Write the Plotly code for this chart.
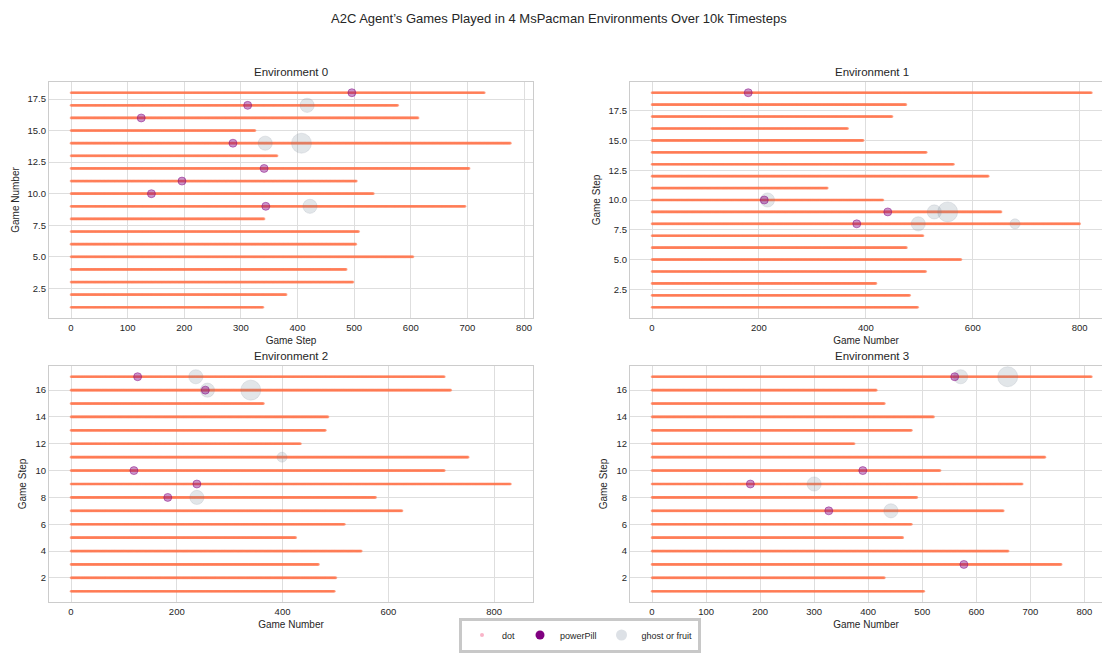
import numpy as np
import plotly.graph_objects as go

# ---------------- data ----------------
env_names = ["Environment 0", "Environment 1", "Environment 2", "Environment 3"]

env0_lengths = [340, 381, 499, 487, 605, 504, 509, 342, 697, 535, 505, 704, 365, 777, 326, 614, 578, 731]
env1_lengths = [498, 483, 420, 513, 579, 477, 508, 801, 654, 433, 329, 630, 565, 514, 396, 367, 450, 476, 823]
env2_lengths = [499, 502, 469, 550, 426, 518, 627, 577, 832, 707, 752, 435, 482, 487, 365, 719, 707]
env3_lengths = [504, 431, 758, 660, 465, 481, 651, 491, 686, 534, 728, 375, 481, 522, 431, 416, 814]

env0_pill_game = [18, 17, 16, 14, 12, 11, 10, 9]
env0_pill_step = [496, 312, 124, 286, 341, 196, 142, 344]
env1_pill_game = [19, 10, 9, 8]
env1_pill_step = [180, 210, 441, 383]
env2_pill_game = [17, 16, 10, 9, 8]
env2_pill_step = [126, 254, 119, 238, 183]
env3_pill_game = [17, 10, 9, 7, 3]
env3_pill_step = [560, 390, 182, 327, 577]

env0_ghost_game = [17, 14, 14, 9]
env0_ghost_step = [417, 343, 407, 422]
env0_ghost_reward = [400, 400, 800, 400]
env1_ghost_game = [10, 9, 9, 8, 8]
env1_ghost_step = [216, 528, 553, 498, 679]
env1_ghost_reward = [400, 400, 800, 400, 200]
env2_ghost_game = [17, 16, 16, 11, 8]
env2_ghost_step = [236, 258, 340, 399, 238]
env2_ghost_reward = [400, 400, 800, 200, 400]
env3_ghost_game = [17, 17, 9, 7]
env3_ghost_step = [571, 658, 300, 442]
env3_ghost_reward = [400, 800, 400, 400]

x_titles = ["Game Step", "Game Number", "Game Number", "Game Number"]
y_titles = ["Game Number", "Game Step", "Game Step", "Game Step"]
x_dticks = [100, 200, 200, 100]
y_dticks = [2.5, 2.5, 2, 2]

lengths = [env0_lengths, env1_lengths, env2_lengths, env3_lengths]
pills = [(env0_pill_game, env0_pill_step), (env1_pill_game, env1_pill_step),
         (env2_pill_game, env2_pill_step), (env3_pill_game, env3_pill_step)]
ghosts = [(env0_ghost_game, env0_ghost_step, env0_ghost_reward),
          (env1_ghost_game, env1_ghost_step, env1_ghost_reward),
          (env2_ghost_game, env2_ghost_step, env2_ghost_reward),
          (env3_ghost_game, env3_ghost_step, env3_ghost_reward)]

# ---------------- layout geometry ----------------
W, H = 1102, 654
FONT = "Liberation Sans, Arial, sans-serif"
TXT = "#262626"

# pixel boxes (left, right, top, bottom); right column is cut at figure edge
boxes = [(49, 533, 82, 318), (630, 1102, 82, 318),
         (49, 533, 366, 602), (630, 1102, 366, 602)]
full_w = 484  # full axes width in px

fig = go.Figure()

for i in range(4):
    ax = "" if i == 0 else str(i + 1)
    xref, yref = "x" + ax, "y" + ax
    L = lengths[i]
    gx, gy = [], []
    for g, n in enumerate(L, start=1):
        steps = np.arange(0, n)
        gx.append(steps)
        gy.append(np.full(n, g))
    gx = np.concatenate(gx)
    gy = np.concatenate(gy)
    fig.add_trace(go.Scatter(x=gx, y=gy, mode="markers", xaxis=xref, yaxis=yref,
                             marker=dict(size=2.7, color="rgba(255,120,80,0.5)", line=dict(width=0)),
                             showlegend=False, hoverinfo="skip"))
    gg, gs, gr = ghosts[i]
    fig.add_trace(go.Scatter(x=gs, y=gg, mode="markers", xaxis=xref, yaxis=yref,
                             marker=dict(size=[10 * np.sqrt(r / 200) for r in gr],
                                         color="rgba(112,128,144,0.28)",
                                         line=dict(width=1, color="rgba(112,128,144,0.22)")),
                             showlegend=False))
    pg, ps = pills[i]
    fig.add_trace(go.Scatter(x=ps, y=pg, mode="markers", xaxis=xref, yaxis=yref,
                             marker=dict(size=8, color="rgba(128,0,128,0.42)",
                                         line=dict(width=1, color="rgba(128,0,128,0.45)")),
                             showlegend=False))

    l, r, t, b = boxes[i]
    xmax = max(L)
    x0 = -0.05 * xmax
    x1full = 1.05 * xmax
    x1 = x0 + (x1full - x0) * (r - l) / full_w
    ymin, ymax = 1, len(L)
    span = ymax - ymin
    y0, y1 = ymin - 0.05 * span, ymax + 0.05 * span
    right_col = (i % 2 == 1)
    xa = dict(domain=[l / W, r / W], range=[x0, x1], anchor=yref, automargin=False,
              dtick=x_dticks[i], tick0=0, showgrid=True, gridcolor="#dedede", gridwidth=1,
              zeroline=False, showline=True, linecolor="#cccccc", linewidth=1.2, mirror=True,
              ticks="", tickfont=dict(size=9.5, color=TXT, family=FONT),
              title=dict(text=x_titles[i], font=dict(size=10, color=TXT, family=FONT), standoff=5))
    ya = dict(domain=[1 - b / H, 1 - t / H], range=[y0, y1], anchor=xref, automargin=False,
              dtick=y_dticks[i], tick0=0, tickformat=(".1f" if y_dticks[i] == 2.5 else "d"),
              showgrid=True, gridcolor="#dedede", gridwidth=1,
              zeroline=False, showline=True, linecolor="#cccccc", linewidth=1.2,
              mirror=(not right_col),
              ticks="", tickfont=dict(size=9.5, color=TXT, family=FONT),
              title=dict(text=y_titles[i], font=dict(size=10, color=TXT, family=FONT), standoff=6))
    fig.update_layout(**{"xaxis" + ax: xa, "yaxis" + ax: ya})
    fig.add_annotation(text=env_names[i], xref="paper", yref="paper",
                       x=(l + full_w / 2) / W, y=1 - (t - 10) / H,
                       xanchor="center", yanchor="middle", showarrow=False,
                       font=dict(size=11.5, color=TXT, family=FONT))

# suptitle
fig.add_annotation(text="A2C Agent\u2019s Games Played in 4 MsPacman Environments Over 10k Timesteps",
                   xref="paper", yref="paper", x=559 / W, y=1 - 18 / H,
                   xanchor="center", yanchor="middle", showarrow=False,
                   font=dict(size=13, color=TXT, family=FONT))

# legend-only entries
fig.add_trace(go.Scatter(x=[None], y=[None], mode="markers", name="dot",
                         marker=dict(size=4, color="#f9b4c8")))
fig.add_trace(go.Scatter(x=[None], y=[None], mode="markers", name="powerPill",
                         marker=dict(size=9, color="#800080")))
fig.add_trace(go.Scatter(x=[None], y=[None], mode="markers", name="ghost or fruit",
                         marker=dict(size=11, color="#dde1e6")))

fig.update_layout(
    width=W, height=H,
    margin=dict(l=0, r=0, t=0, b=0, autoexpand=False),
    paper_bgcolor="white", plot_bgcolor="white",
    font=dict(family=FONT, color=TXT),
    showlegend=True,
    legend=dict(orientation="h", x=580 / W, xanchor="center", y=1.5 / H, yanchor="bottom",
                bordercolor="#c8c8c8", borderwidth=3, bgcolor="white",
                font=dict(size=9, color=TXT, family=FONT),
                itemsizing="trace", tracegroupgap=0, itemwidth=30,
                valign="middle"),
)

fig.write_html("out.html", config={"displayModeBar": False},
               post_script="document.body.style.margin='0px';document.body.style.overflow='hidden';")
